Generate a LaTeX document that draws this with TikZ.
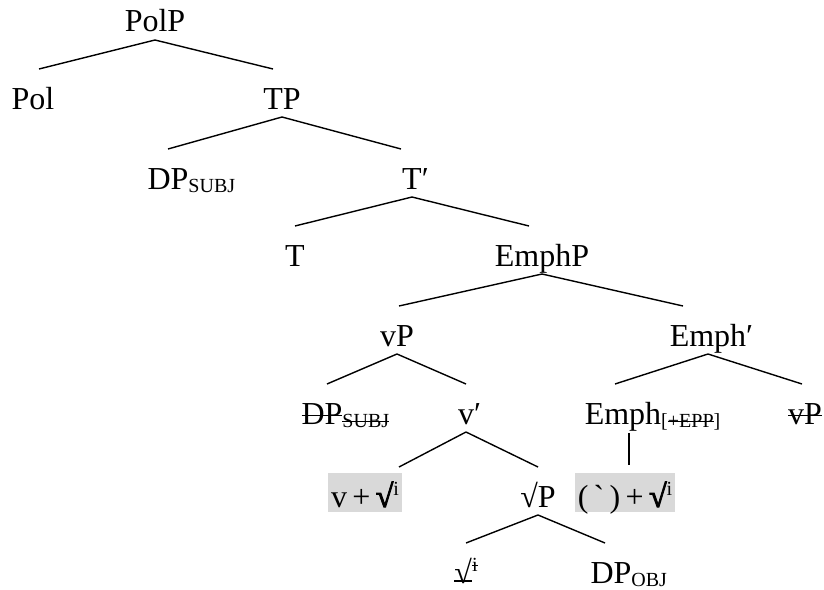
\documentclass[tikz,border=0pt]{standalone}
\usepackage{fontspec}
\setmainfont{Liberation Serif}[Ligatures=TeXOff]
\newfontfamily\rootfont{Liberation Serif}[FakeBold=3]
\newcommand\strike[2][0.55ex]{\setbox0\hbox{#2}\rlap{\rule[#1]{\wd0}{0.7pt}}\box0}
\newcommand\subtxt[1]{\raisebox{-1.5pt}{\fontsize{10}{10}\selectfont #1}}
\newcommand\suptxt[1]{\raisebox{6pt}{\fontsize{10}{10}\selectfont #1}}

\begin{document}
\begin{tikzpicture}[x=0.5pt, y=-0.5pt, line width=0.7pt,
    every node/.style={font=\fontsize{16}{19}\selectfont, inner sep=0pt, anchor=base},
    hl/.style={fill=black!15, inner xsep=1.5pt, text height=17pt, text depth=2.5pt}]
    \useasboundingbox (0,0) rectangle (824,589);
    \node (polp) at (155,32) {PolP};
    \node (pol) at (33,109) {Pol};
    \node (tp) at (282,109) {TP};
    \node (dps) at (168,189) {DP\rlap{\subtxt{SUBJ}}};
    \node (tbar) at (412,189) {T\rlap{′}};
    \node (t) at (295,266) {T};
    \node (emphp) at (542,266) {EmphP};
    \node (vp) at (397,346) {vP};
    \node (emphbar) at (708,346) {Emph\rlap{′}};
    \node (dpst) at (322,424) {\strike{DP}\rlap{\subtxt{\strike{SUBJ}}}};
    \node (vbar) at (466,424) {v\rlap{′}};
    \node (emph) at (623,424) {Emph\rlap{\subtxt{[\strike{+EPP}]}}};
    \node (vpt) at (805,424) {\strike{vP}};
    \node[hl] (vroot) at (365,507) {v\,+\,{\rootfont √}\suptxt{i}};
    \node (rootp) at (538,507) {√P};
    \node[hl] (emphroot) at (625,507) {(\,`\,)\,+\,{\rootfont √}\suptxt{i}};
    \node (roott) at (466,583) {\strike[0.1ex]{√}\suptxt{\strike{i}}};
    \node (dpo) at (611,583) {DP\rlap{\subtxt{OBJ}}};
    \foreach \p/\c/\dx in {polp/pol/6, polp/tp/-9, tp/dps/0, tp/tbar/-11, tbar/t/0,
        tbar/emphp/-13, emphp/vp/2, emphp/emphbar/-25, vp/dpst/5, vp/vbar/0,
        emphbar/emph/-8, emphbar/vpt/-3, vbar/vroot/34, vbar/rootp/0,
        rootp/roott/0, rootp/dpo/-6} {
        \draw ([shift={(0,8)}]\p.base) -- ([shift={(\dx,-40)}]\c.base);
    }
    \draw ([shift={(6,9)}]emph.base) -- ([shift={(4,-42)}]emphroot.base);
\end{tikzpicture}
\end{document}
